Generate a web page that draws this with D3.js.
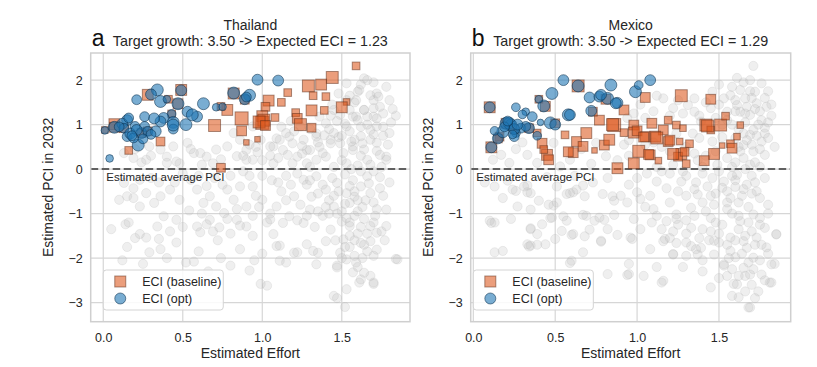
<!DOCTYPE html>
<html><head><meta charset="utf-8">
<script src="https://cdn.jsdelivr.net/npm/d3@7"></script>
<style>body{margin:0;background:#fff}svg{display:block;font-family:"Liberation Sans",Arial,sans-serif}</style>
</head><body><svg id="chart" width="817" height="367"></svg>
<script>
// ---------- DATA ----------
const xTicks = [0, 0.5, 1.0, 1.5];
const yTicks = [-3, -2, -1, 0, 1, 2];
const panelLetters = ["a", "b"];
const countries = ["Thailand", "Mexico"];
const subtitles = ["Target growth: 3.50 -> Expected ECI = 1.23", "Target growth: 3.50 -> Expected ECI = 1.29"];
const legendLabels = ["ECI (baseline)", "ECI (opt)"];
const avgLabel = "Estimated average PCI";
const xLabel = "Estimated Effort";
const yLabel = "Estimated PCI in 2032";

// all products [effort, PCI]
const thaiGray = [
[0.13,0.36],[0.2,0.45],[0.29,0.51],[0.36,0.44],[0.40,0.28],[0.44,0.51],[0.48,0.13],[0.53,0.59],[0.57,0.36],[0.61,0.36],[0.65,0.28],[0.69,0.13],[0.71,0.44],[0.78,0.51],[0.82,0.81],[0.84,0.29],[0.86,0.66],[0.9,0.43],[0.90,0.21],[0.94,0.96],[0.99,0.66],[0.94,0.21],[1.07,0.51],[1.11,0.66],[1.15,0.81],[1.19,0.58],[1.24,0.96],[1.28,0.43],[1.34,0.73],[1.40,1.03],[1.45,0.81],[1.49,0.58],[1.53,0.96],[1.59,1.18],[1.64,1.33],[1.70,1.55],[1.61,1.78],[1.66,2.0],[1.72,1.7],[1.76,1.25],[1.72,0.96],[1.80,0.81],[1.68,0.66],[1.57,0.43],[1.40,0.28],[1.19,0.13],[1.07,0.13],[1.78,0.28],[1.66,0.21],[1.53,0.13],[1.45,1.33],[1.53,1.55],[1.58,1.5],[1.70,1.18],[1.74,1.40],[1.53,1.93],[1.64,2.04],[1.60,1.74],[1.68,1.66],[1.73,1.63],[1.59,1.55],[1.55,1.33],[1.64,1.33],[1.70,1.37],[1.57,1.18],[1.66,1.18],[1.72,1.14],[1.49,1.22],[1.55,0.85],[1.62,0.74],[1.72,0.59],[1.57,0.51],[1.64,0.44],[1.43,0.66],[1.39,0.76],[1.51,0.36],[1.72,0.41],[1.78,0.21],[1.09,0.69],[1.17,0.73],[1.26,0.66],[1.34,0.80],[1.43,0.58],[1.05,0.51],[1.13,0.43],[1.22,0.28],[1.30,0.43],[1.38,0.36],[1.34,0.21],[1.28,0.13],[1.47,1.08],[1.52,1.02],[1.62,0.95],[1.68,0.88],[1.76,0.75],[1.81,1.05],[1.58,0.66],[1.48,0.72],[1.36,0.5],[1.25,0.52],[1.16,0.32],[1.05,0.3],[0.97,0.38],[0.92,0.55],[0.88,0.3],[0.74,0.22],[0.62,0.1],[0.55,0.45],[0.3,0.3],[0.24,0.15],[0.19,0.25],[0.27,0.21],[0.46,0.17],[0.4,0.14],[1.12,0.95],[1.18,1.08],[1.36,1.18],[1.44,1.45],[1.8,1.55],[1.84,1.2],[1.48,1.7],[1.75,0.05],[1.6,0.08],[1.45,0.05],[1.3,0.05],
[0.13,-0.31],[0.19,-0.43],[0.23,-0.24],[0.27,-0.54],[0.10,-0.69],[0.15,-0.61],[0.19,-0.65],[0.23,-0.84],[0.32,-0.76],[0.36,-0.61],[0.42,-0.46],[0.48,-0.69],[0.55,-0.24],[0.59,-0.46],[0.63,-0.76],[0.67,-0.61],[0.71,-0.84],[0.78,-0.46],[0.82,-0.69],[0.86,-0.39],[0.90,-0.84],[0.38,-1.06],[0.34,-1.29],[0.46,-1.14],[0.59,-1.29],[0.67,-1.14],[0.76,-0.99],[0.84,-1.14],[0.90,-1.29],[0.05,-1.35],[0.14,-1.24],[0.16,-1.2],[0.23,-1.46],[0.27,-1.54],[0.35,-1.57],[0.36,-1.8],[0.46,-1.65],[0.29,-1.87],[0.25,-2.13],[0.52,-2.1],[0.57,-2.08],[0.61,-1.42],[0.65,-1.24],[0.69,-1.4],[0.73,-1.31],[0.78,-1.12],[0.86,-1.27],[0.86,-1.8],[0.80,-2.17],[0.92,-2.28],[0.99,-2.58],[1.03,-2.62],[0.94,-1.5],[1.03,-1.2],[1.07,-1.46],[1.11,-1.72],[1.11,-2.06],[1.22,-1.87],[1.45,-2.85],[1.52,-3.1],[1.47,-2.17],[1.57,-2.32],[1.61,-2.55],[1.68,-2.4],[1.70,-2.58],[1.84,-2.02],
[0.94,-0.39],[1.0,-0.69],[1.09,-0.84],[1.2,-0.61],[1.26,-0.24],[1.34,-0.16],[1.4,-0.46],[1.47,-0.31],[1.53,-0.54],[1.62,-0.39],[1.68,-0.54],[1.74,-0.43],[1.55,-0.76],[1.45,-0.84],[1.3,-0.91],[1.17,-1.06],[1.05,-1.0],[1.66,-0.16],[1.62,-0.05],[1.78,-0.91],
[0.94,-1.05],[1.05,-1.13],[1.13,-1.21],[1.26,-1.21],[1.43,-1.36],[1.55,-1.28],[1.68,-1.28],[1.72,-1.43],[1.78,-1.28],[1.51,-1.58],[1.62,-1.66],[1.68,-1.62],[1.72,-1.81],[1.85,-2.03],[1.09,-1.73],[1.2,-1.88],[1.28,-1.69],[1.32,-1.84],[1.35,-1.88],[1.49,-1.88],[1.55,-1.5],
[1.15,-2.1],[1.34,-2.14],[1.47,-2.21],[1.53,-2.03],[1.59,-2.1],[1.64,-2.33],[1.62,-2.48],[1.70,-2.55],[1.53,-2.7],[1.47,-2.9],
[1.22,-0.1],[1.28,-0.35],[1.35,-0.55],[1.42,-0.7],[1.5,-0.95],[1.58,-1.05],[1.63,-0.85],[1.7,-0.75],[1.76,-0.6],[1.8,-0.3],[1.57,-0.25],[1.52,-0.12],[1.44,-0.2],[1.38,-0.35],[1.31,-0.62],[1.24,-0.8],[1.18,-0.35],[1.12,-0.5],[1.06,-0.25],[1.0,-0.15],[1.58,-0.62],[1.64,-1.12],[1.71,-1.05],[1.5,-1.18],[1.38,-1.05],[1.33,-1.3],[1.48,-0.5],[1.55,-0.38],[1.6,-0.7],[1.52,-0.78],[1.67,-0.32],[1.74,-0.18],[1.42,-1.0],[1.46,-1.6],[1.6,-1.45],[1.66,-1.85],[1.58,-1.95],[1.63,-2.0],[1.77,-1.6],[1.55,-1.75],[1.4,-1.62],
[0.5,-0.1],[0.6,-0.15],[0.7,-0.2],[0.8,-0.15],[0.88,-0.05],[0.75,-0.35],[0.65,-0.38],[0.45,-0.3],[0.35,-0.3],[0.3,-0.2],[0.96,-0.6],[0.92,-0.15],[0.98,-0.85],[0.84,-0.9],[0.54,-0.93],[0.62,-1.0],[0.8,-1.45],[0.72,-1.6],[0.5,-1.3],[0.42,-1.4],[0.2,-1.55],[0.15,-1.75],[0.12,-2.05],[0.4,-2.0],[0.6,-1.85],[0.66,-2.3],[0.74,-2.0],[1.0,-1.9],[0.95,-2.05],
[1.5,0.2],[1.56,0.0],[1.62,0.3],[1.68,0.1],[1.7,-0.05],[1.58,-0.5],[1.65,-0.7],[1.72,-0.9],[1.6,-0.95],[1.53,-1.1],[1.47,-1.0],[1.55,-1.2],[1.62,-1.3],[1.7,-1.2],[1.75,-1.4],[1.66,-1.45],[1.58,-1.6],[1.52,-1.75],[1.64,-1.7],[1.7,-1.95],[1.5,-2.0],[1.6,-2.2],[1.45,-0.6],[1.4,-0.85],[1.35,-0.95],[1.28,-1.05],[1.22,-1.15],[1.15,-0.7],[1.1,-0.3],[1.15,-0.15],[1.3,-0.25],[1.25,0.35],[1.35,0.6],[1.42,0.9],[1.5,0.75],[1.56,0.62],[1.63,0.58],[1.7,0.78],[1.76,0.95],[1.79,0.55],[1.74,0.32],[1.66,1.0],[1.6,1.1],[1.55,1.65],[1.62,1.9],[1.7,1.95],[1.78,1.85],[1.82,1.35],[1.43,1.2],[1.3,0.9],[1.2,0.85],[1.1,0.25],[1.0,0.2],[0.96,0.5]
];
// baseline selection [effort, PCI, weight]
const thaiBaseline = [
[1.59,2.32,3],[1.44,2.06,7],[1.37,1.9,6],[1.29,1.87,7],[1.32,1.65,3],[1.40,1.63,3],[1.16,1.72,3],[1.53,1.51,2],[1.50,1.39,6],[1.31,1.32,6],[1.39,1.32,3],[1.12,1.50,3],[1.04,1.54,6],[1.02,1.40,4],[1.00,1.19,6],[1.08,1.16,3],[1.00,1.04,8],[1.01,1.10,7],[0.98,1.06,7],[1.02,0.98,5],[1.21,1.27,3],[1.22,1.14,5],[1.24,1.00,7],[1.31,0.93,4],[0.87,1.14,8],[0.78,1.33,6],[0.70,0.98,7],[0.87,0.86,5],[0.97,0.67,1],[0.90,0.60,1],[0.74,0.03,4],[0.36,0.62,4],[0.16,0.42,3],[0.07,1.01,6],[0.28,1.67,6],[0.49,1.78,6],[0.82,1.70,6],[0.74,1.41,3],[0.41,1.57,3],[0.01,0.88,2],[0.43,1.24,3],[0.07,0.94,5],[0.13,0.92,4],[0.24,0.81,4],[0.28,0.85,4],[0.47,1.47,5],[0.89,1.56,4]
];
// optimised selection [effort, PCI, weight]
const thaiOpt = [
[0.97,2.01,5],[1.10,1.99,5],[0.21,1.56,4],[0.34,1.78,6],[0.36,1.52,6],[0.30,1.68,5],[0.40,1.57,2],[0.49,1.77,5],[0.47,1.47,6],[0.63,1.47,6],[0.71,1.39,2],[0.75,1.40,2],[0.82,1.71,6],[0.92,1.66,6],[0.89,1.57,5],[0.90,1.62,4],[0.53,1.29,5],[0.59,1.18,5],[0.43,1.24,3],[0.38,1.15,5],[0.36,1.07,5],[0.44,1.05,6],[0.52,1.00,6],[0.44,0.90,4],[0.26,1.18,4],[0.56,1.22,6],[0.32,1.14,5],[0.15,1.10,5],[0.01,0.87,2],[0.07,0.94,6],[0.12,1.02,5],[0.13,0.92,4],[0.16,1.15,4],[0.20,0.96,4],[0.15,0.73,4],[0.22,0.54,6],[0.24,0.81,5],[0.26,0.96,4],[0.28,0.85,4],[0.33,0.85,5],[0.30,0.78,4],[0.17,0.80,5],[0.04,0.24,2],[0.44,0.99,6],[0.21,0.88,5],[0.19,0.70,4],[0.18,0.75,4],[0.25,0.68,4],[0.10,0.95,4]
];

const mexGray = [
[0.12,0.21],[0.17,0.32],[0.22,0.14],[0.33,0.32],[0.39,0.14],[0.45,0.29],[0.49,0.59],[0.53,0.06],[0.59,0.21],[0.66,0.45],[0.75,0.59],[0.81,0.29],[0.88,0.2],[0.72,0.12],[0.3,0.6],[0.26,0.45],[0.92,0.55],[0.95,0.3],
[1.71,2.32],[1.61,2.05],[1.69,2.0],[1.76,1.93],[1.63,1.78],[1.72,1.74],[1.57,1.66],[1.66,1.59],[1.73,1.48],[1.79,1.4],[1.61,1.44],[1.53,1.59],[1.46,1.74],[1.45,1.37],[1.55,1.29],[1.63,1.29],[1.69,1.22],[1.76,1.1],[1.35,1.59],[1.31,1.44],[1.22,1.37],[1.16,1.59],[1.12,1.65],[1.35,1.29],[1.39,1.07],[1.78,0.93],[1.69,0.77],[1.76,0.62],[1.65,0.54],[1.71,0.4],[1.78,0.32],[1.65,0.25],[1.69,0.1],[1.75,0.05],[1.6,0.15],[1.55,0.25],[1.49,0.1],[1.4,0.05],[1.35,0.35],[1.3,0.5],[1.62,0.9],[1.58,1.0],[1.66,1.05],[1.71,0.88],[1.8,0.7],[1.82,1.2],[1.84,0.5],[1.7,1.6],[1.75,1.3],[1.67,1.4],[1.6,1.55],[1.5,1.45],[1.42,1.5],[1.38,1.2],[1.28,1.25],[1.2,1.2],[1.1,1.3],[1.02,1.45],[0.98,1.25],[1.05,1.15],[0.94,1.15],[1.25,1.55],[1.48,1.15],[1.55,1.1],[1.67,0.65],[1.73,0.75],[1.6,0.7],[1.52,0.72],[1.46,0.62],[1.38,0.7],[1.34,0.8],[1.24,0.8],[1.15,0.5],[1.1,0.6],[1.2,0.4],[1.05,0.55],[0.95,0.65],[1.12,0.05],[1.22,0.1],[1.65,1.95],[1.58,1.85],[1.5,1.9],[1.8,1.75],[1.82,1.45],[1.63,0.4],[1.75,0.45],
[0.07,-0.3],[0.21,-0.26],[0.26,-0.49],[0.33,-0.37],[0.33,-0.52],[0.4,-0.71],[0.51,-0.75],[0.57,-0.56],[0.61,-0.52],[0.67,-0.37],[0.73,-0.3],[0.79,-0.56],[0.86,-0.71],[0.9,-0.6],[0.94,-0.75],[1.0,-0.52],[1.02,-0.67],[0.98,-1.12],[0.96,-1.54],
[0.1,-1.16],[0.13,-1.2],[0.23,-1.12],[0.13,-1.87],[0.18,-1.84],[0.33,-1.69],[0.35,-1.72],[0.35,-1.35],[0.39,-1.46],[0.42,-1.24],[0.44,-1.69],[0.48,-1.09],[0.49,-0.82],[0.54,-1.39],[0.5,-1.57],[0.57,-1.16],[0.61,-1.46],[0.69,-1.05],[0.74,-1.16],[0.77,-1.09],[0.78,-1.61],[0.82,-1.35],[0.6,-2.06],[0.67,-1.87],[0.82,-2.36],[0.95,-2.13],[0.95,-2.36],[0.97,-1.57],[1.09,-1.2],[1.15,-2.55],[1.17,-1.57],[1.22,-1.91],[1.24,-1.12],[1.3,-1.65],[1.36,-1.8],[1.45,-2.66],[1.47,-1.61],[1.53,-2.17],[1.55,-2.4],[1.59,-2.58],[1.62,-2.88],[1.68,-3.11],[1.66,-2.4],[1.71,-2.25],[1.81,-2.55],[1.84,-2.13],[1.85,-1.46],[1.79,-1.76],
[0.13,-0.39],[0.24,-0.46],[0.31,-0.39],[0.35,-0.54],[0.46,-0.8],[0.51,-0.39],[0.59,-0.54],[0.63,-0.46],[0.68,-0.61],[0.85,-0.61],[0.27,-0.84],[0.35,-0.91],[0.47,-1.1],[0.55,-1.06],[0.67,-1.03],[0.71,-1.36],[0.8,-1.14],[0.86,-1.03],[0.11,-1.21],[0.35,-1.33],[0.39,-1.7],[0.6,-1.48],[0.68,-1.51],[0.78,-1.63],[0.88,-1.48],[0.34,-1.74],[0.59,-2.11],[0.94,-2.38],
[1.12,-0.28],[1.18,-0.43],[1.27,-0.28],[1.37,-0.57],[1.43,-0.39],[1.53,-0.28],[1.61,-0.13],[1.67,-0.35],[1.73,-0.5],[1.57,-0.65],[1.47,-0.8],[1.33,-0.87],[1.24,-1.02],[1.18,-1.17],[1.22,-1.4],[1.33,-1.32],[1.45,-1.1],[1.52,-1.25],[1.63,-1.17],[1.71,-1.02],[1.78,-1.32],[1.8,-0.8],[1.16,-1.62],[1.24,-1.66],[1.33,-1.73],[1.39,-1.77],[1.57,-1.54],[1.65,-1.62],[1.73,-1.54],[1.85,-1.47],[1.22,-1.92],[1.37,-1.92],[1.47,-1.92],[1.57,-1.84],[1.67,-1.77],[1.71,-1.99],[1.65,-2.22],[1.69,-2.37],[1.76,-2.37],[1.82,-2.14],[1.61,-2.59],[1.16,-2.51],[1.53,-2.14],[1.69,-3.11],[1.82,-2.55],
[1.2,-0.1],[1.3,-0.15],[1.4,-0.1],[1.5,-0.05],[1.6,-0.4],[1.7,-0.15],[1.78,-0.2],[1.64,-0.6],[1.55,-0.9],[1.4,-0.75],[1.3,-0.6],[1.25,-0.5],[1.48,-0.55],[1.58,-1.0],[1.68,-0.85],[1.75,-1.1],[1.62,-1.35],[1.5,-1.45],[1.4,-1.35],[1.3,-1.15],[1.2,-0.75],[1.1,-0.9],[1.08,-0.6],[1.15,-1.35],[1.35,-1.05],[1.44,-1.6],[1.55,-1.7],[1.6,-1.98],[1.72,-1.7],[1.8,-1.9],[1.5,-2.45],[1.58,-2.25],[1.74,-2.75],[1.62,-1.05],[1.72,-0.3],[1.52,-0.42],[1.42,-0.95],[1.66,-1.5],[1.75,-1.25],[1.58,-0.15],[1.46,-0.2],[1.36,-0.3],[1.0,-0.2],[0.95,-0.35],[1.05,-0.85],[1.02,-1.35],[1.08,-1.8],[1.28,-2.2],[1.4,-2.3],[1.12,-2.2],[1.04,-2.4],[0.82,-0.2],[0.62,-0.15],[0.45,-0.18],[0.18,-0.65],
[1.55,-0.5],[1.62,-0.75],[1.68,-1.2],[1.6,-1.6],[1.7,-1.4],[1.76,-1.7],[1.64,-1.9],[1.56,-2.0],[1.68,-2.1],[1.75,-2.05],[1.62,-2.4],[1.7,-2.6],[1.78,-2.5],[1.66,-2.75],[1.58,-2.85],[1.72,-2.9],[1.5,-1.65],[1.45,-1.4],[1.48,-1.2],[1.38,-1.55],[1.3,-1.45],[1.25,-1.25],[1.2,-1.55],[1.35,-0.45],[1.45,-0.6],[1.55,-0.75],[1.65,-0.45],[1.75,-0.65],[1.8,-1.0],[1.7,-0.55],[1.6,-0.25],[1.66,0.0],[1.72,0.15],[1.58,0.05],[1.62,0.5],[1.7,0.55],[1.78,0.8],[1.65,0.8],[1.74,1.0],[1.8,1.05],[1.66,1.25],[1.72,1.35],[1.78,1.6],[1.69,1.75],[1.6,1.3],[1.52,1.0],[1.48,0.4],[1.42,0.3],[1.37,0.2],[1.28,-0.05],[1.15,-0.05],[1.06,-0.1],[1.12,-1.05],[1.4,-2.05],[1.3,-1.95]
];
const mexBaseline = [
[0.10,1.39,6],[0.11,0.49,6],[0.40,1.57,3],[0.64,1.87,7],[1.05,1.61,5],[1.27,1.65,7],[1.45,1.57,5],[0.92,1.33,5],[0.77,1.10,5],[0.86,0.99,8],[0.98,0.99,5],[1.09,1.03,5],[1.19,1.10,3],[1.24,0.99,3],[1.28,0.92,2],[1.42,0.99,7],[1.51,0.99,7],[1.54,1.19,3],[1.63,0.99,2],[1.16,0.88,5],[1.45,0.88,3],[0.92,0.82,3],[0.98,0.82,6],[1.00,0.86,5],[1.05,0.73,5],[1.11,0.73,6],[1.19,0.62,5],[1.26,0.62,2],[1.32,0.57,3],[1.61,0.73,2],[1.57,0.57,3],[1.52,0.53,1],[1.58,0.47,5],[1.47,0.34,6],[1.41,0.19,5],[1.30,0.12,3],[1.27,0.34,6],[1.25,0.28,4],[1.13,0.19,2],[1.08,0.32,5],[1.01,0.40,7],[0.98,0.13,6],[0.88,0.02,6],[0.80,0.54,5],[0.83,0.66,6],[0.74,0.42,1],[0.69,0.81,6],[0.63,0.62,5],[0.67,0.51,5],[0.61,0.37,5],[0.58,0.39,5],[0.56,0.77,3],[0.42,0.58,5],[0.45,0.32,6],[0.46,0.21,5],[0.43,0.44,3],[0.20,1.03,5],[0.16,0.73,4],[0.25,0.90,4],[0.39,0.81,3],[0.44,1.41,5],[0.73,1.29,4],[0.81,1.57,5],[0.50,1.03,4],[0.34,0.92,4],[0.15,0.69,4],[1.04,0.72,5],[1.12,0.70,7],[1.20,0.65,5],[1.29,0.39,4],[1.07,0.33,5],[1.22,0.34,6],[0.85,1.00,7],[1.43,0.97,7]
];
const mexOpt = [
[0.10,1.39,5],[0.11,0.49,5],[0.15,0.69,5],[0.18,0.84,6],[0.26,1.39,3],[0.32,1.29,2],[0.20,1.03,6],[0.23,0.99,6],[0.29,0.92,4],[0.34,0.92,5],[0.26,0.81,3],[0.39,0.75,3],[0.43,1.42,6],[0.40,1.57,2],[0.48,1.70,6],[0.55,2.00,5],[0.64,1.87,6],[0.71,1.61,5],[0.58,1.22,6],[0.47,1.04,6],[0.50,1.00,5],[0.72,1.31,5],[0.77,1.63,5],[0.84,1.89,6],[0.82,1.59,6],[0.88,1.49,5],[0.99,1.74,6],[1.01,1.89,3],[1.08,2.00,5],[0.36,1.18,4],[0.25,0.73,4],[0.30,1.23,3],[0.22,1.03,6],[0.32,0.96,4],[0.25,0.90,5],[0.41,1.05,1],[0.24,0.78,3],[0.78,1.67,5],[0.87,1.48,5],[0.59,1.22,5],[0.19,0.95,4],[0.13,0.86,3],[0.27,1.00,5],[0.21,1.08,4]
];

// ---------- LAYOUT ----------
const panels = [
  {left: 90.7, right: 410, xDom: [-0.079, 1.929], gray: thaiGray, base: thaiBaseline, opt: thaiOpt},
  {left: 470.7, right: 790.7, xDom: [-0.016, 1.938], gray: mexGray, base: mexBaseline, opt: mexOpt}
];
const plotTop = 53, plotBottom = 321.7, yDom = [-3.43, 2.61];
const svg = d3.select("#chart");
const textCol = "#262626";
const sqSize = d3.scaleLinear().domain([1, 8]).range([5.5, 13]);
const cRad = d3.scaleLinear().domain([1, 7]).range([3.3, 6.5]);
const fmtX = d3.format(".1f");
const fmtY = v => (v < 0 ? "\u2212" + Math.abs(v) : String(v));

panels.forEach((p, i) => {
  const x = d3.scaleLinear().domain(p.xDom).range([p.left, p.right]);
  const y = d3.scaleLinear().domain(yDom).range([plotBottom, plotTop]);
  const g = svg.append("g");

  // grid
  g.append("g").selectAll("line").data(xTicks).join("line")
    .attr("x1", d => x(d)).attr("x2", d => x(d)).attr("y1", plotTop).attr("y2", plotBottom)
    .attr("stroke", "#d6d6d6").attr("stroke-width", 1.2);
  g.append("g").selectAll("line").data(yTicks).join("line")
    .attr("y1", d => y(d)).attr("y2", d => y(d)).attr("x1", p.left).attr("x2", p.right)
    .attr("stroke", "#d6d6d6").attr("stroke-width", 1.2);

  // axes (labels only)
  const xa = g.append("g").attr("transform", `translate(0,${plotBottom})`)
    .call(d3.axisBottom(x).tickValues(xTicks).tickFormat(fmtX).tickSize(0).tickPadding(11));
  const ya = g.append("g").attr("transform", `translate(${p.left},0)`)
    .call(d3.axisLeft(y).tickValues(yTicks).tickFormat(fmtY).tickSize(0).tickPadding(8));
  [xa, ya].forEach(a => {
    a.select(".domain").remove();
    a.selectAll("text").attr("font-size", 12.5).attr("fill", textCol)
      .attr("font-family", "Liberation Sans, Arial, sans-serif");
  });

  // gray products
  g.append("g").selectAll("circle").data(p.gray).join("circle")
    .attr("cx", d => x(d[0])).attr("cy", d => y(d[1])).attr("r", 4.6)
    .attr("fill", "#bdbdbd").attr("fill-opacity", 0.24)
    .attr("stroke", "#b0b0b0").attr("stroke-opacity", 0.25).attr("stroke-width", 0.8);

  // zero line
  g.append("line").attr("x1", p.left).attr("x2", p.right).attr("y1", y(0)).attr("y2", y(0))
    .attr("stroke", "#606060").attr("stroke-width", 2).attr("stroke-dasharray", "7.5,3.5");
  g.append("text").attr("x", x(xTicks[0]) + 3).attr("y", y(0) + 12).text(avgLabel)
    .attr("font-size", 11.5).attr("fill", textCol);

  // baseline squares
  g.append("g").selectAll("rect").data(p.base).join("rect")
    .attr("x", d => x(d[0]) - sqSize(d[2]) / 2).attr("y", d => y(d[1]) - sqSize(d[2]) / 2)
    .attr("width", d => sqSize(d[2])).attr("height", d => sqSize(d[2]))
    .attr("fill", "#dd581e").attr("fill-opacity", 0.58)
    .attr("stroke", "#5a2a15").attr("stroke-opacity", 0.5).attr("stroke-width", 1);

  // opt circles
  g.append("g").selectAll("circle").data(p.opt).join("circle")
    .attr("cx", d => x(d[0])).attr("cy", d => y(d[1])).attr("r", d => cRad(d[2]))
    .attr("fill", "#1f77b4").attr("fill-opacity", 0.6)
    .attr("stroke", "#0b2f4d").attr("stroke-opacity", 0.55).attr("stroke-width", 1);

  // frame
  g.append("rect").attr("x", p.left).attr("y", plotTop).attr("width", p.right - p.left).attr("height", plotBottom - plotTop)
    .attr("fill", "none").attr("stroke", "#cfcfcf").attr("stroke-width", 1.5);

  // legend
  const lx = x(xTicks[0]), ly = 270;
  const lg = g.append("g");
  lg.append("rect").attr("x", lx).attr("y", ly).attr("width", 120).attr("height", 40).attr("rx", 3)
    .attr("fill", "#fff").attr("fill-opacity", 0.85).attr("stroke", "#d4d4d4").attr("stroke-width", 1);
  lg.append("rect").attr("x", lx + 11.5).attr("y", ly + 6).attr("width", 11).attr("height", 11)
    .attr("fill", "#dd581e").attr("fill-opacity", 0.58).attr("stroke", "#5a2a15").attr("stroke-opacity", 0.5);
  lg.append("circle").attr("cx", lx + 17).attr("cy", ly + 28.5).attr("r", 5.5)
    .attr("fill", "#1f77b4").attr("fill-opacity", 0.6).attr("stroke", "#0b2f4d").attr("stroke-opacity", 0.55);
  lg.selectAll("text").data(legendLabels).join("text")
    .attr("x", lx + 39).attr("y", (d, k) => ly + 16 + k * 17).text(d => d)
    .attr("font-size", 12.5).attr("fill", textCol);

  // titles
  const cx = (p.left + p.right) / 2;
  g.append("text").attr("x", cx).attr("y", 30).attr("text-anchor", "middle").text(countries[i])
    .attr("font-size", 14).attr("fill", textCol);
  g.append("text").attr("x", cx).attr("y", 45.5).attr("text-anchor", "middle").text(subtitles[i])
    .attr("font-size", 14.3).attr("fill", textCol);
  g.append("text").attr("x", p.left + 1).attr("y", 45.5).text(panelLetters[i])
    .attr("font-size", 23).attr("fill", "#111");

  // axis labels
  g.append("text").attr("x", cx).attr("y", 358).attr("text-anchor", "middle").text(xLabel)
    .attr("font-size", 14).attr("fill", textCol);
  g.append("text").attr("transform", `translate(${p.left - 38},${(plotTop + plotBottom) / 2}) rotate(-90)`)
    .attr("text-anchor", "middle").text(yLabel).attr("font-size", 14).attr("fill", textCol);
});
</script>
</body></html>
